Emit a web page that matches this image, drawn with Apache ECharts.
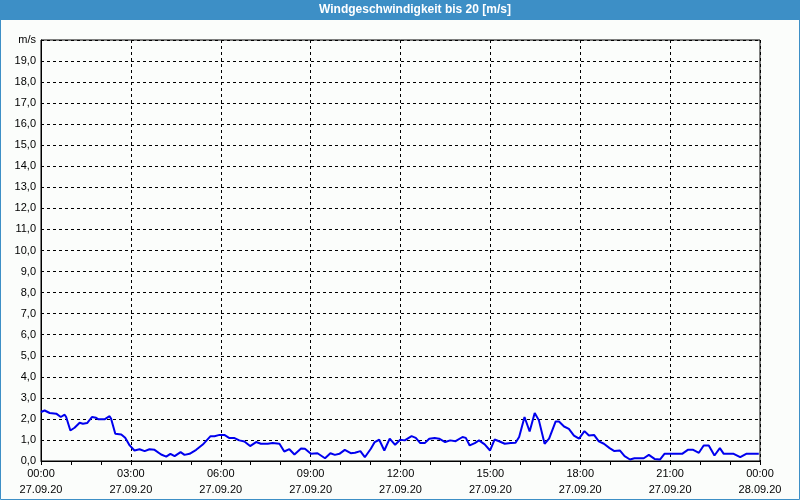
<!DOCTYPE html>
<html>
<head>
<meta charset="utf-8">
<script src="https://cdn.jsdelivr.net/npm/echarts@6/dist/echarts.min.js"></script>
<style>
html,body{margin:0;padding:0;background:#fbfdfb;}
#chart{width:800px;height:500px;}
</style>
</head>
<body>
<div id="chart"></div>
<script>
// time of day in hours (27.09.20 00:00 = 0)
const hours = [0, 0.12, 0.29, 0.51, 0.66, 0.79, 0.84, 0.98, 1.12, 1.29, 1.4, 1.54, 1.7, 1.84, 1.92, 2.12, 2.29, 2.34, 2.48, 2.68, 2.81, 2.96, 3.12, 3.29, 3.46, 3.62, 3.79, 4.01, 4.18, 4.32, 4.46, 4.66, 4.79, 4.96, 5.18, 5.4, 5.66, 5.79, 5.96, 6.12, 6.29, 6.46, 6.62, 6.79, 6.98, 7.18, 7.34, 7.57, 7.73, 7.96, 8.12, 8.29, 8.46, 8.68, 8.81, 9.01, 9.23, 9.48, 9.66, 9.81, 9.96, 10.14, 10.34, 10.48, 10.66, 10.81, 11.01, 11.14, 11.29, 11.46, 11.64, 11.82, 11.99, 12.14, 12.37, 12.51, 12.66, 12.81, 12.96, 13.14, 13.29, 13.49, 13.66, 13.84, 14.07, 14.18, 14.31, 14.48, 14.62, 14.81, 14.99, 15.14, 15.29, 15.48, 15.68, 15.84, 15.96, 16.14, 16.31, 16.48, 16.62, 16.81, 16.96, 17.18, 17.29, 17.46, 17.62, 17.79, 17.96, 18.14, 18.29, 18.46, 18.62, 18.79, 18.98, 19.14, 19.32, 19.48, 19.66, 19.81, 20.12, 20.29, 20.48, 20.66, 20.81, 20.99, 21.23, 21.4, 21.59, 21.77, 21.96, 22.12, 22.29, 22.48, 22.66, 22.79, 23.12, 23.34, 23.54, 23.96];
// wind speed in m/s
const speeds = [2.33, 2.40, 2.28, 2.25, 2.09, 2.20, 2.09, 1.45, 1.58, 1.82, 1.77, 1.80, 2.09, 2.05, 1.98, 1.98, 2.13, 2.01, 1.29, 1.26, 1.10, 0.74, 0.50, 0.56, 0.47, 0.56, 0.53, 0.31, 0.21, 0.34, 0.23, 0.42, 0.29, 0.34, 0.53, 0.78, 1.18, 1.18, 1.24, 1.24, 1.09, 1.09, 0.98, 0.93, 0.71, 0.90, 0.82, 0.82, 0.85, 0.82, 0.45, 0.56, 0.31, 0.59, 0.58, 0.34, 0.37, 0.13, 0.37, 0.29, 0.34, 0.53, 0.37, 0.39, 0.47, 0.18, 0.58, 0.90, 1.01, 0.50, 1.06, 0.77, 1.01, 0.98, 1.18, 1.10, 0.85, 0.85, 1.06, 1.09, 1.06, 0.90, 0.98, 0.94, 1.14, 1.10, 0.74, 0.85, 0.98, 0.79, 0.50, 1.02, 0.94, 0.82, 0.85, 0.87, 1.14, 2.09, 1.40, 2.28, 1.93, 0.82, 1.06, 1.88, 1.88, 1.64, 1.53, 1.21, 1.06, 1.42, 1.21, 1.24, 0.93, 0.82, 0.61, 0.47, 0.50, 0.23, 0.07, 0.13, 0.13, 0.29, 0.10, 0.07, 0.34, 0.34, 0.34, 0.34, 0.53, 0.53, 0.39, 0.74, 0.74, 0.26, 0.61, 0.34, 0.34, 0.18, 0.34, 0.34];
const timeLabels = ['00:00', '03:00', '06:00', '09:00', '12:00', '15:00', '18:00', '21:00', '00:00'];
const dateLabels = ['27.09.20', '27.09.20', '27.09.20', '27.09.20', '27.09.20', '27.09.20', '27.09.20', '27.09.20', '28.09.20'];
const chartTitle = 'Windgeschwindigkeit bis 20 [m/s]';
const unitLabel = 'm/s';

const seriesData = hours.map((h, i) => [h, speeds[i]]);
const FONT = '"Liberation Sans", Arial, sans-serif';

const chart = echarts.init(document.getElementById('chart'), null, {renderer: 'canvas'});
chart.setOption({
  animation: false,
  backgroundColor: '#fbfdfb',
  grid: {left: 41, right: 40, top: 40, bottom: 39, show: true, borderColor: '#000', borderWidth: 1, backgroundColor: 'transparent'},
  xAxis: {
    type: 'value', min: 0, max: 24, interval: 3,
    axisLine: {show: true, lineStyle: {color: '#000', width: 1}},
    axisTick: {show: true, inside: false, length: 4, lineStyle: {color: '#000'}},
    minorTick: {show: true, splitNumber: 3, length: 4, lineStyle: {color: '#000'}},
    splitLine: {show: true, lineStyle: {color: '#000', type: [3, 3], width: 1}},
    axisLabel: {
      margin: 5, color: '#000', fontFamily: FONT, fontSize: 11, lineHeight: 16,
      formatter: v => { const i = Math.round(v / 3); return timeLabels[i] + '\n' + dateLabels[i]; }
    }
  },
  yAxis: {
    type: 'value', min: 0, max: 20, interval: 1,
    axisLine: {show: true, lineStyle: {color: '#000', width: 1}},
    axisTick: {show: false},
    splitLine: {show: true, lineStyle: {color: '#000', type: [3, 3], width: 1}},
    axisLabel: {
      margin: 5, color: '#000', fontFamily: FONT, fontSize: 11,
      formatter: v => v === 20 ? unitLabel : v.toFixed(1).replace('.', ',')
    }
  },
  graphic: [
    {type: 'rect', left: 0, top: 0, shape: {x: 0, y: 0, width: 800, height: 20}, style: {fill: '#3d8fc6'}, z: 10},
    {type: 'text', x: 415, y: 10, style: {text: chartTitle, fill: '#fff', font: 'bold 12px ' + FONT, textAlign: 'center', textVerticalAlign: 'middle'}, z: 11},
    {type: 'rect', shape: {x: 0.5, y: 0.5, width: 799, height: 499}, style: {fill: 'none', stroke: '#3d8fc6', lineWidth: 1}, z: 12, silent: true}
  ],
  series: [{
    type: 'line', data: seriesData, showSymbol: false, symbol: 'none',
    lineStyle: {color: '#0000ee', width: 2}, z: 5
  }]
});
</script>
</body>
</html>
